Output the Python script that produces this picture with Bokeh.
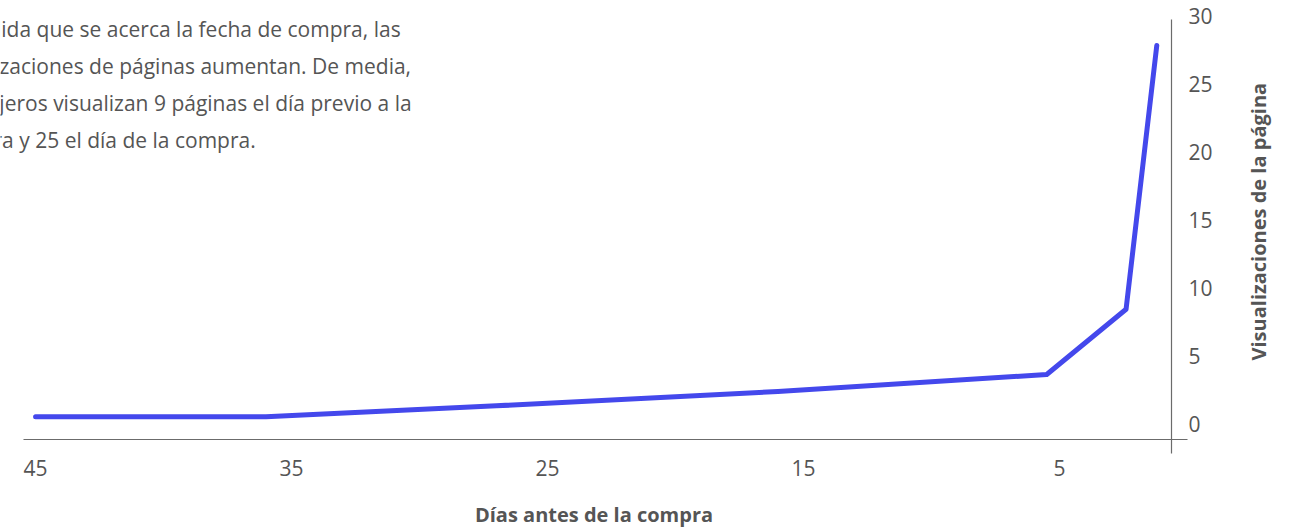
import math

from bokeh.plotting import figure
from bokeh.layouts import row
from bokeh.models import Range1d, Label, FixedTicker
from bokeh.embed import file_html
from bokeh.resources import INLINE

# Average page views by number of days before the purchase
days_before = [45, 36, 27, 16, 5.5, 2.4, 1.2]
page_views = [0.5, 0.5, 1.3, 2.35, 3.6, 8.4, 27.8]

x_ticks = [45, 35, 25, 15, 5]
y_ticks = [0, 5, 10, 15, 20, 25, 30]
x_title = "Días antes de la compra"
y_title = "Visualizaciones de la página"
note_lines = [
    "A medida que se acerca la fecha de compra, las",
    "visualizaciones de páginas aumentan. De media,",
    "los viajeros visualizan 9 páginas el día previo a la",
    "compra y 25 el día de la compra.",
]

FONT = "Open Sans"
GREY = "#555555"
AXIS_GREY = "#6b6b6b"
LINE_BLUE = "#4448EC"

W, H = 1240, 531          # main chart
SIDE_W = 1300 - W         # strip holding the vertical title
LEFT, RIGHT, TOP, BOTTOM = 0, 53, 10, 76
X_START, X_END = 46.37, 0.0
PX_PER_UNIT_Y = 13.6
Y_ZERO_PX = 423  # canvas row of value 0

frame_w = W - LEFT - RIGHT
frame_h = H - TOP - BOTTOM
y_top = (Y_ZERO_PX - TOP) / PX_PER_UNIT_Y
y_bottom = (Y_ZERO_PX - (TOP + frame_h)) / PX_PER_UNIT_Y


def px_to_day(px):
    return X_START + (px - LEFT) * (X_END - X_START) / frame_w


def py_to_val(py):
    return (Y_ZERO_PX - py) / PX_PER_UNIT_Y


p = figure(
    width=W, height=H,
    x_range=Range1d(X_START, X_END),
    y_range=Range1d(y_bottom, y_top),
    y_axis_location="right",
    output_backend="svg", toolbar_location=None,
    min_border_left=LEFT, min_border_right=RIGHT,
    min_border_top=TOP, min_border_bottom=BOTTOM,
)
p.outline_line_color = None
p.grid.visible = False
p.background_fill_color = "white"
p.border_fill_color = "white"

for ax in (p.xaxis[0], p.yaxis[0]):
    ax.axis_line_color = None
    ax.major_tick_line_color = None
    ax.minor_tick_line_color = None
    ax.major_tick_out = 0
    ax.major_tick_in = 0
    ax.major_label_text_font = FONT
    ax.major_label_text_color = GREY
    ax.major_label_text_font_size = "21px"
    ax.axis_label_text_font = FONT
    ax.axis_label_text_font_style = "bold"
    ax.axis_label_text_color = GREY
    ax.axis_label_text_font_size = "20px"

p.xaxis.ticker = FixedTicker(ticks=x_ticks)
p.yaxis.ticker = FixedTicker(ticks=y_ticks)
p.xaxis.major_label_standoff = 4
p.yaxis.major_label_standoff = 1
p.xaxis.axis_label = x_title
p.xaxis.axis_label_standoff = 22

# Axis rules that cross each other near the bottom-right corner
p.segment(
    x0=[px_to_day(23), px_to_day(1171)],
    y0=[py_to_val(439), py_to_val(19)],
    x1=[px_to_day(1190), px_to_day(1171)],
    y1=[py_to_val(439), py_to_val(453)],
    line_color=AXIS_GREY, line_width=1.2,
)

p.line(days_before, page_views, line_width=5, line_color=LINE_BLUE,
       line_cap="round", line_join="round")

for i, txt in enumerate(note_lines):
    p.add_layout(Label(
        x=px_to_day(-62), y=py_to_val(28 + 37 * i), text=txt,
        text_font=FONT, text_font_size="21px", text_color=GREY,
        text_align="left", text_baseline="alphabetic",
    ))

# Narrow strip on the right with the y-axis title, reading bottom to top
side = figure(
    width=SIDE_W, height=H,
    x_range=Range1d(0, SIDE_W), y_range=Range1d(H, 0),
    output_backend="svg", toolbar_location=None, min_border=0,
)
side.axis.visible = False
side.grid.visible = False
side.outline_line_color = None
side.add_layout(Label(
    x=1258 - W, y=252, text=y_title, angle=math.pi / 2,
    text_font=FONT, text_font_style="bold", text_font_size="20px",
    text_color=GREY, text_align="center", text_baseline="middle",
))

layout = row(p, side, spacing=0)
open("out.html", "w").write(file_html(layout, INLINE))
